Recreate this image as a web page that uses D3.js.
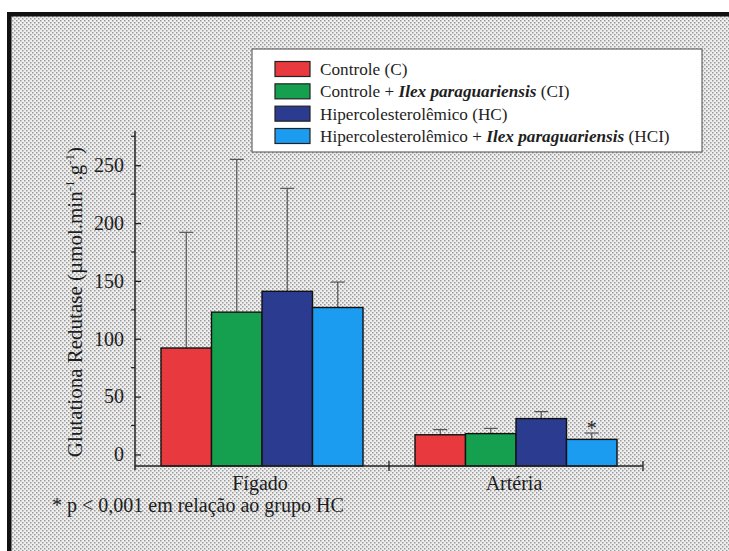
<!DOCTYPE html>
<html>
<head>
<meta charset="utf-8">
<script src="https://cdn.jsdelivr.net/npm/d3@7"></script>
<style>
  html, body { margin: 0; padding: 0; background: #fff; }
  svg { display: block; }
  svg text { font-family: "Liberation Serif", Tinos, "Times New Roman", Times, "Nimbus Roman", "DejaVu Serif", serif !important; fill: #1e1e1e; }
</style>
</head>
<body>
<svg id="chart" width="729" height="551"></svg>
<script>
// Glutationa redutase activity per tissue and group
const tissues = ["Fígado", "Artéria"];
const groups = ["C", "CI", "HC", "HCI"];
const groupColors = ["#e8393e", "#14a04f", "#2b3b8f", "#1b9cf0"];
const meanFigado = [92, 123, 141, 127];
const errFigado = [100, 132, 89, 22];
const meanArteria = [17, 18, 31, 13];
const errArteria = [4.5, 4.5, 6, 5.5];
const significant = [[], [3]]; // group indices marked with * per tissue
const yMajorTicks = [0, 50, 100, 150, 200, 250];
const yMinorTicks = [25, 75, 125, 175, 225, 275];
const legendLabels = [
  ["Controle (C)", "", ""],
  ["Controle + ", "Ilex paraguariensis", " (CI)"],
  ["Hipercolesterolêmico (HC)", "", ""],
  ["Hipercolesterolêmico + ", "Ilex paraguariensis", " (HCI)"]
];
const footnote = "* p < 0,001 em relação ao grupo HC";

const means = [meanFigado, meanArteria];
const errs = [errFigado, errArteria];

const svg = d3.select("#chart");

// dotted halftone background
const defs = svg.append("defs");
const pat = defs.append("pattern")
  .attr("id", "dots").attr("width", 4).attr("height", 4)
  .attr("patternUnits", "userSpaceOnUse");
pat.append("rect").attr("width", 4).attr("height", 4).attr("fill", "#efefef");
pat.append("rect").attr("x", 0).attr("y", 0).attr("width", 1.5).attr("height", 1.5).attr("fill", "#999");
pat.append("rect").attr("x", 2).attr("y", 2).attr("width", 1.5).attr("height", 1.5).attr("fill", "#999");

svg.append("rect").attr("x", 9).attr("y", 14).attr("width", 729).attr("height", 551)
  .attr("fill", "url(#dots)");

// frame: top and left heavy edges
svg.append("rect").attr("x", 7).attr("y", 12).attr("width", 722).attr("height", 4.5).attr("fill", "#111");
svg.append("rect").attr("x", 7).attr("y", 12).attr("width", 4.5).attr("height", 539).attr("fill", "#111");

// scales
const x0 = d3.scaleBand().domain(tissues).range([135, 643]).paddingInner(0).paddingOuter(0);
const x1 = d3.scaleBand().domain(groups).range([26, x0.bandwidth() - 26]).padding(0);
const y = d3.scaleLinear().domain([-10, 280]).range([466, 130.5]);

// bars, error bars
const g = svg.append("g");
tissues.forEach((t, ti) => {
  const gt = g.append("g").attr("transform", `translate(${x0(t)},0)`);
  const rows = groups.map((k, i) => ({ k, i, v: means[ti][i], e: errs[ti][i] }));

  gt.selectAll("line.err").data(rows).join("line")
    .attr("class", "err")
    .attr("x1", d => x1(d.k) + x1.bandwidth() / 2)
    .attr("x2", d => x1(d.k) + x1.bandwidth() / 2)
    .attr("y1", d => y(d.v))
    .attr("y2", d => y(d.v + d.e))
    .attr("stroke", "#555").attr("stroke-width", 1.2);
  gt.selectAll("line.cap").data(rows).join("line")
    .attr("class", "cap")
    .attr("x1", d => x1(d.k) + x1.bandwidth() / 2 - 7)
    .attr("x2", d => x1(d.k) + x1.bandwidth() / 2 + 7)
    .attr("y1", d => y(d.v + d.e))
    .attr("y2", d => y(d.v + d.e))
    .attr("stroke", "#555").attr("stroke-width", 1.2);

  gt.selectAll("rect.bar").data(rows).join("rect")
    .attr("class", "bar")
    .attr("x", d => x1(d.k))
    .attr("width", x1.bandwidth())
    .attr("y", d => y(d.v))
    .attr("height", d => y(-10) - y(d.v))
    .attr("fill", d => groupColors[d.i])
    .attr("stroke", "#111").attr("stroke-width", 1.4);

  significant[ti].forEach(i => {
    gt.append("text")
      .attr("x", x1(groups[i]) + x1.bandwidth() / 2)
      .attr("y", y(means[ti][i] + errs[ti][i]) + 2)
      .attr("text-anchor", "middle")
      .attr("font-size", 20)
      .text("*");
  });
});

// y axis
const yAxis = svg.append("g").attr("transform", "translate(135,0)");
yAxis.call(d3.axisLeft(y).tickValues(yMajorTicks).tickSize(-6).tickPadding(11).tickFormat(d3.format("d")));
yAxis.attr("font-family", null);
yAxis.selectAll(".domain").remove();
yAxis.append("line").attr("x1", 0).attr("x2", 0).attr("y1", 131).attr("y2", 470)
  .attr("stroke", "#222").attr("stroke-width", 1.5);
yAxis.selectAll(".tick line").attr("stroke", "#222").attr("stroke-width", 1.3);
yAxis.selectAll(".tick text")
  .attr("font-size", 20).attr("fill", "#222");
yAxis.selectAll("line.minor").data(yMinorTicks).join("line")
  .attr("class", "minor")
  .attr("x1", -4).attr("x2", 0)
  .attr("y1", d => y(d)).attr("y2", d => y(d))
  .attr("stroke", "#222").attr("stroke-width", 1.2);

// x axis
const xAxis = svg.append("g").attr("transform", `translate(0,${y(-10)})`);
xAxis.append("line").attr("x1", 135).attr("x2", 643).attr("y1", 0).attr("y2", 0)
  .attr("stroke", "#222").attr("stroke-width", 1.5);
const xEdges = [x0.range()[0], x0(tissues[1]), x0.range()[1]];
xAxis.selectAll("line.xt").data(xEdges.slice(1)).join("line")
  .attr("class", "xt")
  .attr("x1", d => d).attr("x2", d => d).attr("y1", -5).attr("y2", 5)
  .attr("stroke", "#222").attr("stroke-width", 1.3);
xAxis.selectAll("text.cat").data(tissues).join("text")
  .attr("class", "cat")
  .attr("x", d => x0(d) + x0.bandwidth() / 2 - 2)
  .attr("y", 24)
  .attr("text-anchor", "middle")
  .attr("font-size", 20)
  .text(d => d);

// y axis title
const yt = svg.append("text")
  .attr("transform", "translate(82,302) rotate(-90)")
  .attr("text-anchor", "middle")
  .attr("font-size", 21);
yt.append("tspan").text("Glutationa Redutase (µmol.min");
yt.append("tspan").attr("dy", -8).attr("font-size", 13).text("-1");
yt.append("tspan").attr("dy", 8).text(".g");
yt.append("tspan").attr("dy", -8).attr("font-size", 13).text("-1");
yt.append("tspan").attr("dy", 8).text(")");

// legend
const lg = svg.append("g");
lg.append("rect").attr("x", 252).attr("y", 49).attr("width", 450).attr("height", 103)
  .attr("fill", "#fff").attr("stroke", "#666").attr("stroke-width", 1.2);
const rowY = d3.scalePoint().domain(d3.range(groups.length)).range([69, 136]);
legendLabels.forEach((parts, i) => {
  const cy = rowY(i);
  lg.append("rect").attr("x", 275).attr("y", cy - 7.5).attr("width", 35).attr("height", 15)
    .attr("fill", groupColors[i]).attr("stroke", "#222").attr("stroke-width", 1.2);
  const t = lg.append("text").attr("x", 320).attr("y", cy + 6).attr("font-size", 17.2);
  t.append("tspan").text(parts[0]);
  if (parts[1]) t.append("tspan").attr("font-style", "italic").attr("font-weight", "bold").text(parts[1]);
  if (parts[2]) t.append("tspan").text(parts[2]);
});

// footnote
svg.append("text").attr("x", 52).attr("y", 512).attr("font-size", 20).text(footnote);
</script>
</body>
</html>
